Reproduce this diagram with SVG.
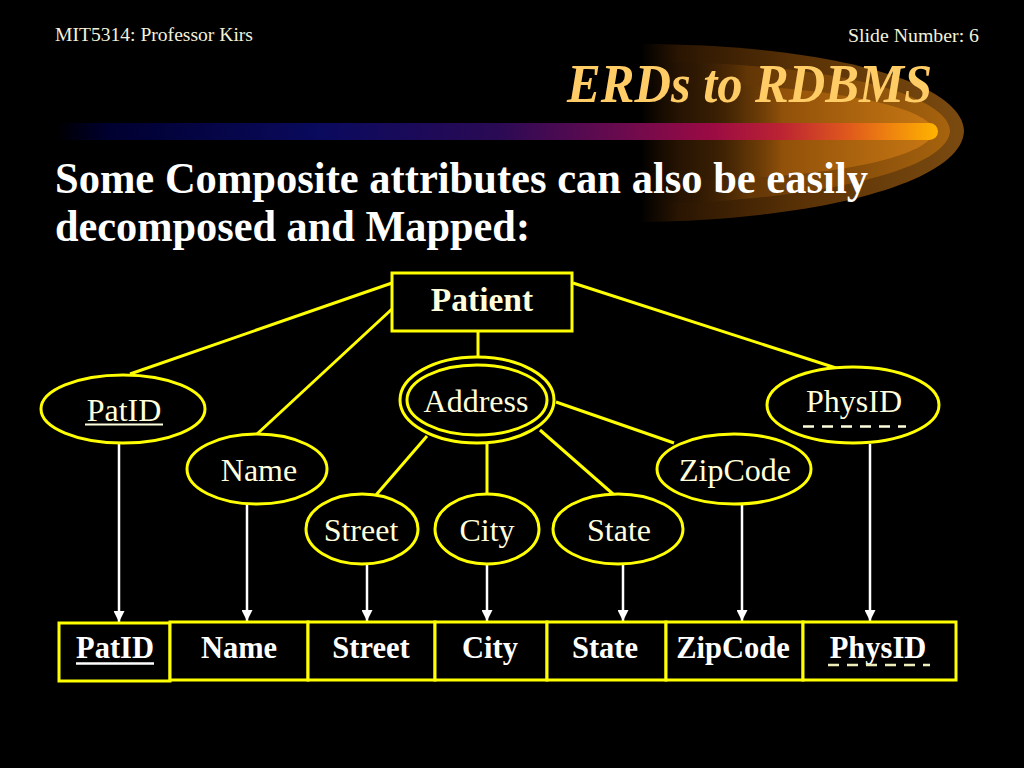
<svg xmlns="http://www.w3.org/2000/svg" width="1024" height="768" viewBox="0 0 1024 768">
<defs>
<style>
.serif{font-family:"Liberation Serif","Times New Roman",serif}
.hdr{font-size:18.5px;fill:#F2F2DC}
.ttl{font-size:55px;font-weight:bold;font-style:italic;fill:#FFCC66}
.sub{font-size:45px;font-weight:bold;fill:#FFFFFF}
.ent{fill:#000;stroke:#FFFF00;stroke-width:3}
.att{fill:#000;stroke:#FFFF00;stroke-width:3}
.atxt{font-size:32px;fill:#FFFFDD;text-anchor:middle}
.etxt{font-size:33.5px;font-weight:bold;fill:#FFFFDD;text-anchor:middle}
.ttxt{font-size:30.5px;font-weight:bold;fill:#FFFFFF;text-anchor:middle}
.cell{fill:#000;stroke:#FFFF00;stroke-width:3}
.link{stroke:#FFFF00;stroke-width:3;fill:none}
.map{stroke:#FFFFFF;stroke-width:2.5;fill:none;marker-end:url(#arr)}
</style>
<marker id="arr" viewBox="0 0 10 10" refX="10" refY="5" markerWidth="4.4" markerHeight="4.4" orient="auto" markerUnits="strokeWidth">
<path d="M0,0 L10,5 L0,10 Z" fill="#FFFFFF"/>
</marker>
<linearGradient id="bar" gradientUnits="userSpaceOnUse" x1="55" y1="0" x2="938" y2="0">
<stop offset="0" stop-color="#000000"/>
<stop offset="0.06" stop-color="#000030"/>
<stop offset="0.3" stop-color="#0a0a5e"/>
<stop offset="0.5" stop-color="#2a0a55"/>
<stop offset="0.64" stop-color="#6a0a4e"/>
<stop offset="0.74" stop-color="#990a44"/>
<stop offset="0.82" stop-color="#bb2233"/>
<stop offset="0.9" stop-color="#e05a1c"/>
<stop offset="1" stop-color="#ffb400"/>
</linearGradient>
<linearGradient id="gA" gradientUnits="userSpaceOnUse" x1="640" y1="0" x2="964" y2="0">
<stop offset="0" stop-color="#000000"/>
<stop offset="0.12" stop-color="#2a1502"/>
<stop offset="0.5" stop-color="#5a3206"/>
<stop offset="1" stop-color="#7a4a10"/>
</linearGradient>
<linearGradient id="gB" gradientUnits="userSpaceOnUse" x1="660" y1="0" x2="952" y2="0">
<stop offset="0" stop-color="#000000" stop-opacity="0"/>
<stop offset="0.3" stop-color="#6a3a06" stop-opacity="0.8"/>
<stop offset="1" stop-color="#a8640e"/>
</linearGradient>
<linearGradient id="gC" gradientUnits="userSpaceOnUse" x1="700" y1="0" x2="936" y2="0">
<stop offset="0" stop-color="#000000" stop-opacity="0"/>
<stop offset="0.35" stop-color="#9a560a" stop-opacity="0.8"/>
<stop offset="1" stop-color="#c87814"/>
</linearGradient>
</defs>
<rect x="0" y="0" width="1024" height="768" fill="#000000"/>

<g id="decor">
<path d="M640,44 C820,44 962,80 964,131 C962,182 820,220 640,222 Z" fill="url(#gA)"/>
<path d="M660,62 C840,64 948,96 950,131 C948,166 840,198 660,204 Z" fill="url(#gB)"/>
<path d="M700,84 C860,88 932,112 934,131 C932,152 860,176 700,180 Z" fill="url(#gC)"/>
<rect x="55" y="123" width="883" height="17" rx="8.5" fill="url(#bar)"/>
</g>

<g id="header" class="serif">
<text class="hdr" x="55" y="41" textLength="198" lengthAdjust="spacingAndGlyphs">MIT5314: Professor Kirs</text>
<text class="hdr" x="848" y="42" textLength="131" lengthAdjust="spacingAndGlyphs">Slide Number: 6</text>
<text class="ttl" x="567" y="102" textLength="365" lengthAdjust="spacingAndGlyphs">ERDs to RDBMS</text>
<text class="sub" x="55" y="193" textLength="813" lengthAdjust="spacingAndGlyphs">Some Composite attributes can also be easily</text>
<text class="sub" x="55" y="241" textLength="475" lengthAdjust="spacingAndGlyphs">decomposed and Mapped:</text>
</g>

<g id="connectors">
<line class="link" x1="392" y1="283" x2="130" y2="374"/>
<line class="link" x1="392" y1="309" x2="257" y2="434"/>
<line class="link" x1="478" y1="331" x2="478" y2="358"/>
<line class="link" x1="573" y1="283" x2="836" y2="368"/>
<line class="link" x1="427" y1="436" x2="376" y2="495"/>
<line class="link" x1="487" y1="443" x2="487" y2="494"/>
<line class="link" x1="540" y1="430" x2="613" y2="494"/>
<line class="link" x1="556" y1="402" x2="674" y2="443"/>
<line class="map" x1="119" y1="443" x2="119" y2="622"/>
<line class="map" x1="247" y1="503" x2="247" y2="621"/>
<line class="map" x1="367" y1="563" x2="367" y2="621"/>
<line class="map" x1="487" y1="563" x2="487" y2="621"/>
<line class="map" x1="623" y1="563" x2="623" y2="621"/>
<line class="map" x1="742" y1="503" x2="742" y2="621"/>
<line class="map" x1="870" y1="444" x2="870" y2="621"/>
</g>

<g id="patient" class="serif">
<rect class="ent" x="392" y="273" width="180" height="58"/>
<text class="etxt" x="482" y="311">Patient</text>
</g>

<g id="attr-patid" class="serif">
<ellipse class="att" cx="123" cy="409" rx="82" ry="34"/>
<text class="atxt" x="124" y="421">PatID</text>
<line x1="85" y1="424.5" x2="163" y2="424.5" stroke="#FFFFDD" stroke-width="2"/>
</g>

<g id="attr-name" class="serif">
<ellipse class="att" cx="257" cy="469" rx="70" ry="35"/>
<text class="atxt" x="259" y="481">Name</text>
</g>

<g id="attr-address" class="serif">
<ellipse class="att" cx="477" cy="400" rx="77" ry="43"/>
<ellipse class="att" cx="477" cy="400" rx="70" ry="35"/>
<text class="atxt" x="476" y="412">Address</text>
</g>

<g id="attr-street" class="serif">
<ellipse class="att" cx="362" cy="529" rx="56" ry="35"/>
<text class="atxt" x="361" y="541">Street</text>
</g>

<g id="attr-city" class="serif">
<ellipse class="att" cx="487" cy="529" rx="52" ry="35"/>
<text class="atxt" x="487" y="541">City</text>
</g>

<g id="attr-state" class="serif">
<ellipse class="att" cx="618" cy="529" rx="65" ry="35"/>
<text class="atxt" x="619" y="541">State</text>
</g>

<g id="attr-zipcode" class="serif">
<ellipse class="att" cx="734" cy="469" rx="77" ry="35"/>
<text class="atxt" x="735" y="481">ZipCode</text>
</g>

<g id="attr-physid" class="serif">
<ellipse class="att" cx="853" cy="405" rx="86" ry="38"/>
<text class="atxt" x="854" y="412">PhysID</text>
<line x1="803" y1="426.5" x2="906" y2="426.5" stroke="#FFFFDD" stroke-width="2.5" stroke-dasharray="11 8"/>
</g>

<g id="table" class="serif">
<g id="col-patid">
<rect class="cell" x="59" y="623" width="111" height="58"/>
<text class="ttxt" x="115" y="658">PatID</text>
<line x1="76" y1="663.5" x2="154" y2="663.5" stroke="#FFFFFF" stroke-width="2.5"/>
</g>
<g id="col-name">
<rect class="cell" x="170" y="622" width="138" height="58"/>
<text class="ttxt" x="239" y="658">Name</text>
</g>
<g id="col-street">
<rect class="cell" x="308" y="622" width="127" height="58"/>
<text class="ttxt" x="371" y="658">Street</text>
</g>
<g id="col-city">
<rect class="cell" x="435" y="622" width="112" height="58"/>
<text class="ttxt" x="490" y="658">City</text>
</g>
<g id="col-state">
<rect class="cell" x="547" y="622" width="119" height="58"/>
<text class="ttxt" x="605" y="658">State</text>
</g>
<g id="col-zipcode">
<rect class="cell" x="666" y="622" width="137" height="58"/>
<text class="ttxt" x="733" y="658">ZipCode</text>
</g>
<g id="col-physid">
<rect class="cell" x="803" y="622" width="153" height="58"/>
<text class="ttxt" x="878" y="658">PhysID</text>
<line x1="828" y1="665" x2="930" y2="665" stroke="#EEEEBB" stroke-width="2.5" stroke-dasharray="11 8"/>
</g>
</g>
</svg>
